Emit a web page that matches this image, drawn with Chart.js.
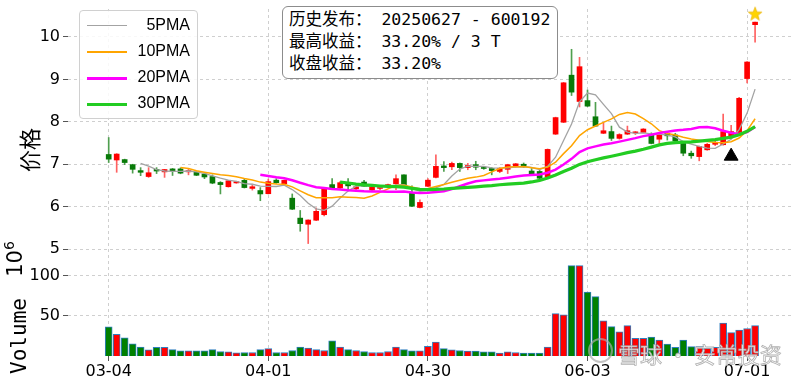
<!DOCTYPE html>
<html>
<head>
<meta charset="utf-8">
<script src="https://cdn.jsdelivr.net/npm/chart.js@4/dist/chart.umd.min.js"></script>
<style>
html, body { margin: 0; padding: 0; background: #fff; }
#wrap { position: relative; width: 800px; height: 380px; overflow: hidden; }
#kline { position: absolute; left: 0; top: 0; }
.txt { position: absolute; white-space: nowrap; color: #000; }
.rot { transform: translate(-50%, -50%) rotate(-90deg); }
#info { position: absolute; left: 282px; top: 6px; width: 276px; height: 73px; box-sizing: border-box;
  border: 1.3px solid #8c8c8c; border-radius: 6px; background: #fff; padding: 2px 0 0 6px;
  font: 16.5px "DejaVu Sans Mono", "Noto Sans CJK SC", monospace; line-height: 22px; }
#legend { position: absolute; left: 79px; top: 10px; width: 119px; height: 109px; box-sizing: border-box;
  border: 1px solid #d0d0d0; border-radius: 4px; background: rgba(255,255,255,0.85); }
.lrow { position: absolute; left: 0; width: 119px; height: 22px; }
.sw { position: absolute; left: 7px; width: 40px; top: 10px; height: 0; }
.lt { position: absolute; right: 9px; top: 1px; font: 16px "Liberation Sans", sans-serif; }
#wm { position: absolute; left: 618px; top: 337px; font: 22px "Noto Sans CJK SC", sans-serif;
  color: rgba(255,255,255,0.85); -webkit-text-stroke: 0.8px rgba(150,150,150,0.75); white-space: nowrap; }
#wmlogo { position: absolute; left: 588px; top: 338px; width: 21px; height: 21px; border-radius: 50%;
  border: 2px solid rgba(170,170,170,0.7); }
</style>
</head>
<body>
<div id="wrap">
  <canvas id="kline" width="800" height="380"></canvas>
  <div id="legend"></div>
  <div id="info">
    <div>历史发布： 20250627 - 600192</div>
    <div>最高收益： 33.20% / 3 T</div>
    <div>收盘收益： 33.20%</div>
  </div>
  <div class="txt rot" style="left:28px;top:150px;font:22px 'Noto Sans CJK SC',sans-serif;">价格</div>
  <div class="txt rot" style="left:19px;top:336px;font:21px 'DejaVu Sans Mono',monospace;">Volume</div>
  <div class="txt rot" style="left:14px;top:259px;font:21px 'DejaVu Sans',sans-serif;">10<sup style="font-size:14px">6</sup></div>
  <div id="wmlogo"></div>
  <div id="wm">雪球 · 安常投资</div>
</div>
<script>
// trading days 2025-03-04 .. 2025-07-02
var dates = ['03-04','03-05','03-06','03-07','03-10','03-11','03-12','03-13','03-14','03-17',
  '03-18','03-19','03-20','03-21','03-24','03-25','03-26','03-27','03-28','03-31',
  '04-01','04-02','04-03','04-07','04-08','04-09','04-10','04-11','04-14','04-15',
  '04-16','04-17','04-18','04-21','04-22','04-23','04-24','04-25','04-28','04-29',
  '04-30','05-06','05-07','05-08','05-09','05-12','05-13','05-14','05-15','05-16',
  '05-19','05-20','05-21','05-22','05-23','05-26','05-27','05-28','05-29','05-30',
  '06-03','06-04','06-05','06-06','06-09','06-10','06-11','06-12','06-13','06-16',
  '06-17','06-18','06-19','06-20','06-23','06-24','06-25','06-26','06-27','06-30',
  '07-01','07-02'];

var opens = [7.23,7.10,7.11,6.99,6.85,6.71,6.88,6.82,6.89,6.89,
  6.82,6.81,6.77,6.71,6.57,6.47,6.56,6.62,6.43,6.38,
  6.305,6.625,6.54,6.20,5.73,5.585,5.68,5.81,6.52,6.44,
  6.53,6.42,6.58,6.39,6.43,6.49,6.54,6.75,6.32,5.98,
  6.48,6.69,6.96,6.94,7.02,6.92,6.99,6.92,6.90,6.83,
  6.88,6.95,7.00,6.84,6.83,6.70,7.71,7.99,9.10,8.48,
  8.50,8.12,7.73,7.77,7.61,7.71,7.74,7.75,7.69,7.59,
  7.73,7.69,7.49,7.26,7.18,7.34,7.47,7.46,7.63,7.75,
  9.02,10.29];
var highs = [7.63,7.25,7.12,7.00,6.92,6.92,6.92,6.88,6.90,6.915,
  6.88,6.82,6.78,6.75,6.59,6.62,6.60,6.66,6.53,6.45,
  6.65,6.66,6.63,6.30,5.91,5.69,5.97,6.45,6.66,6.59,
  6.66,6.51,6.62,6.47,6.45,6.53,6.75,6.75,6.49,6.16,
  6.66,7.22,7.06,7.05,7.03,7.02,7.07,6.94,6.92,6.92,
  7.00,7.02,7.03,6.90,6.86,7.36,8.11,8.93,9.71,9.52,
  8.75,8.46,7.98,7.90,7.72,7.90,7.77,7.84,7.74,7.70,
  7.75,7.73,7.50,7.31,7.43,7.49,7.56,8.18,7.92,8.58,
  9.42,10.35];
var lows = [7.04,6.81,6.99,6.79,6.73,6.69,6.78,6.69,6.735,6.775,
  6.75,6.73,6.66,6.54,6.30,6.46,6.55,6.44,6.39,6.14,
  6.30,6.55,6.53,5.93,5.42,5.13,5.67,5.78,6.44,6.40,
  6.38,6.39,6.47,6.38,6.40,6.48,6.40,6.51,6.00,5.97,
  6.47,6.68,6.83,6.87,6.83,6.87,6.87,6.88,6.75,6.80,
  6.78,6.93,6.92,6.75,6.66,6.68,7.70,7.98,8.62,8.35,
  8.36,7.89,7.72,7.56,7.59,7.70,7.70,7.74,7.48,7.49,
  7.57,7.54,7.20,7.14,7.08,7.33,7.44,7.45,7.62,7.74,
  8.92,9.88];
var closes = [7.12,7.24,7.04,6.88,6.81,6.80,6.84,6.875,6.845,6.79,
  6.85,6.74,6.70,6.555,6.52,6.61,6.59,6.45,6.47,6.30,
  6.59,6.565,6.62,5.94,5.60,5.685,5.89,6.44,6.445,6.565,
  6.49,6.47,6.48,6.46,6.44,6.52,6.66,6.52,6.01,6.10,
  6.625,6.95,6.92,7.02,6.92,6.97,6.93,6.90,6.85,6.90,
  6.99,7.01,6.955,6.76,6.67,7.35,8.10,8.92,8.70,9.30,
  8.37,7.90,7.79,7.61,7.70,7.79,7.76,7.83,7.49,7.69,
  7.67,7.55,7.26,7.20,7.42,7.47,7.52,7.77,7.77,8.555,
  9.41,10.35];
// volume in 10^6
var volumes = [36.2,27.0,22.5,15.3,11.2,7.6,10.8,10.8,8.0,6.4,
  6.4,6.4,6.4,8.0,5.6,5.2,4.0,4.4,4.4,8.0,
  9.2,4.4,4.4,6.8,11.2,10.0,8.0,6.8,18.9,11.2,
  8.0,6.8,5.6,4.4,4.4,5.6,11.2,8.0,6.4,6.4,
  12.0,17.3,9.2,7.6,6.8,6.0,6.0,5.2,5.2,3.6,
  5.2,4.4,3.6,3.6,3.6,11.2,52.8,51.2,112.5,112.5,
  79.4,73.8,43.9,36.6,30.2,37.9,22.1,22.1,23.7,19.7,
  14.9,10.8,19.7,11.6,11.6,10.0,10.8,41.1,29.0,32.2,
  34.2,37.9];

var maPeriods = [5, 10, 20, 30];
var priceTicks = [5, 6, 7, 8, 9, 10];
var volumeTicks = [50, 100];
var dateTickIdx = [0, 20, 40, 60, 80];

// signal day (triangle below) and best day (star above)
var signalIdx = 78, signalMark = 7.19;
var peakIdx = 81, peakMark = 10.55;

var maColors = ['#a3a3a3', '#ffa500', '#ff00ff', '#22cc22'];
var maWidths = [1.3, 1.5, 2.5, 3.2];
var legendWidths = [1.5, 2, 3, 3.5];
var upColor = '#ff0000', downColor = '#087a08';
var upWick = '#ff6161', downWick = '#4f9f4f';

function movingAvg(n) {
    var out = [];
    for (var i = n - 1; i < closes.length; i++) {
        var s = 0;
        for (var j = i - n + 1; j <= i; j++) s += closes[j];
        out.push({ x: i, y: s / n });
    }
    return out;
}

var bodies = [], wicks = [], vols = [], bodyCol = [], wickCol = [], volCol = [];
for (var i = 0; i < closes.length; i++) {
    var up = closes[i] >= opens[i];
    bodies.push({ x: i, y: [opens[i], closes[i]] });
    wicks.push({ x: i, y: [lows[i], highs[i]] });
    vols.push({ x: i, y: volumes[i] });
    bodyCol.push(up ? upColor : downColor);
    wickCol.push(up ? upWick : downWick);
    volCol.push(up ? upColor : '#008000');
}

// yellow star marker
var star = document.createElement('canvas');
star.width = 16; star.height = 16;
var sc = star.getContext('2d');
sc.beginPath();
for (var k = 0; k < 10; k++) {
    var r = k % 2 === 0 ? 7.2 : 3.0;
    var a = -Math.PI / 2 + k * Math.PI / 5;
    sc.lineTo(8 + r * Math.cos(a), 8.6 + r * Math.sin(a));
}
sc.closePath();
sc.fillStyle = '#ffd400';
sc.fill();
sc.strokeStyle = '#e8b000';
sc.lineWidth = 0.7;
sc.stroke();

var datasets = [
    { type: 'line', data: [{ x: peakIdx, y: peakMark }], showLine: false, pointStyle: star, pointRadius: 8,
      clip: false, order: 0, yAxisID: 'y' },
    { type: 'line', data: [{ x: signalIdx, y: signalMark }], showLine: false, pointStyle: 'triangle', pointRadius: 8,
      backgroundColor: '#000', borderColor: '#000', borderWidth: 1, order: 0, yAxisID: 'y' }
];
maPeriods.forEach(function (p, k) {
    datasets.push({
        type: 'line', data: movingAvg(p), borderColor: maColors[k], borderWidth: maWidths[k],
        pointRadius: 0, tension: 0, fill: false, order: 4 - k, yAxisID: 'y'
    });
});
datasets.push({ type: 'bar', data: bodies, backgroundColor: bodyCol, barThickness: 5, minBarLength: 1,
    grouped: false, order: 6, yAxisID: 'y' });
datasets.push({ type: 'bar', data: wicks, backgroundColor: wickCol, barThickness: 1,
    grouped: false, order: 7, yAxisID: 'y' });
datasets.push({ type: 'bar', data: vols, backgroundColor: volCol, borderColor: '#2f7fc0', borderWidth: 1,
    barThickness: 7, grouped: false, order: 8, yAxisID: 'yv' });

Chart.defaults.font.family = 'DejaVu Sans';
Chart.defaults.font.size = 16;
Chart.defaults.color = '#000';

var gridOpts = { color: '#cfcfcf', lineWidth: 1, tickLength: 5, tickColor: '#555', offset: false };
var borderOpts = { display: false, dash: [3, 3] };

function noPad(s) {
    s.paddingTop = 0; s.paddingBottom = 0; s.paddingLeft = 0; s.paddingRight = 0;
}

var ctx = document.getElementById('kline').getContext('2d');
var myChart = new Chart(ctx, {
    data: { datasets: datasets },
    options: {
        responsive: false,
        animation: false,
        layout: { padding: { left: 0, right: 3, top: 2, bottom: 0 } },
        plugins: { legend: { display: false }, tooltip: { enabled: false } },
        scales: {
            x: {
                type: 'linear', min: -5.1, max: 85.5, offset: false,
                grid: gridOpts, border: borderOpts,
                afterBuildTicks: function (s) { s.ticks = dateTickIdx.map(function (v) { return { value: v }; }); },
                afterFit: function (s) { s.height = 24; noPad(s); },
                ticks: { padding: 1, maxRotation: 0, callback: function (v) { return dates[v] || ''; } }
            },
            yv: {
                type: 'linear', position: 'left', stack: 'k', stackWeight: 100,
                min: 0, max: 122,
                grid: gridOpts, border: borderOpts,
                afterBuildTicks: function (s) { s.ticks = volumeTicks.map(function (v) { return { value: v }; }); },
                afterFit: function (s) { s.width = 68; noPad(s); },
                ticks: { padding: 3 }
            },
            y: {
                type: 'linear', position: 'left', stack: 'k', stackWeight: 254,
                min: 4.79, max: 10.66,
                grid: gridOpts, border: borderOpts,
                afterBuildTicks: function (s) { s.ticks = priceTicks.map(function (v) { return { value: v }; }); },
                afterFit: function (s) { s.width = 68; noPad(s); },
                ticks: { padding: 3 }
            }
        }
    }
});

var lg = document.getElementById('legend');
maPeriods.forEach(function (p, k) {
    var row = document.createElement('div');
    row.className = 'lrow';
    row.style.top = (4 + k * 26) + 'px';
    row.innerHTML = '<span class="sw" style="border-top:' + legendWidths[k] + 'px solid ' + maColors[k] + '"></span>' +
        '<span class="lt">' + p + 'PMA</span>';
    lg.appendChild(row);
});
</script>
</body>
</html>
